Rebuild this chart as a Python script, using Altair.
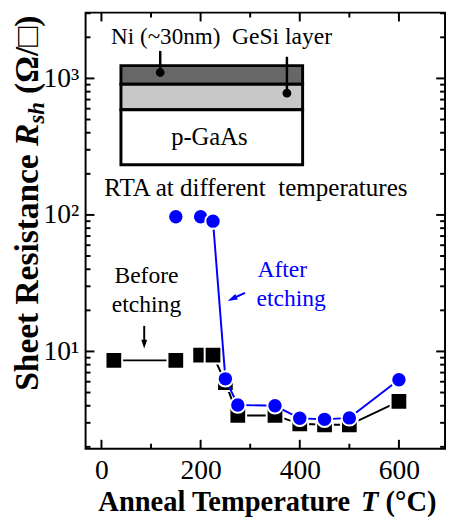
import altair as alt
import pandas as pd

# ---------------- data ----------------
T_before = [25, 150, 200, 225, 250, 275, 350, 400, 450, 500, 600]
R_before = [8.6, 8.6, 9.4, 9.4, 5.9, 3.4, 3.4, 2.95, 2.9, 2.9, 4.3]
seg_before = [0, 0, 1, 1, 1, 1, 1, 1, 1, 1, 1]

T_after = [150, 200, 225, 250, 275, 350, 400, 450, 500, 600]
R_after = [97, 97, 90, 6.3, 4.05, 4.0, 3.24, 3.18, 3.26, 6.2]
seg_after = [0, 1, 1, 1, 1, 1, 1, 1, 1, 1]

x_major = [0, 200, 400, 600]
x_minor = [100, 300, 500]
y_major = [10, 100, 1000]
y_minor = [2, 3, 4, 5, 6, 7, 8, 9, 20, 30, 40, 50, 60, 70, 80, 90,
           200, 300, 400, 500, 600, 700, 800, 900, 2000, 3000]

df_b = pd.DataFrame({"T": T_before, "R": R_before, "seg": seg_before})
df_a = pd.DataFrame({"T": T_after, "R": R_after, "seg": seg_after})
one = pd.DataFrame({"k": [0]})

W, H = 366, 444
SERIF = "Liberation Serif"
BLUE = "#0000ff"

xs = alt.Scale(domain=[-32, 693], nice=False, zero=False)
ys = alt.Scale(type="log", domain=[1.94, 3034], nice=False)

X = alt.X("T:Q", scale=xs, axis=alt.Axis(values=x_major, ticks=False, domain=False, grid=False,
                                          labelFontSize=28, labelFont=SERIF, labelPadding=8,
                                          labelColor="black", title=None, labelFlush=False))
Y = alt.Y("R:Q", scale=ys, axis=alt.Axis(values=y_major, ticks=False, domain=False, grid=False,
                                          labelFontSize=28, labelFont=SERIF, labelPadding=7,
                                          labelColor="black", title=None, labelFlush=False,
                                          labelExpr="datum.value == 10 ? '10\u00b9' : datum.value == 100 ? '10\u00b2' : '10\u00b3'"))

layers = []

# ---------------- inward ticks ----------------
MAJ, MIN = 9, 5
def xt(vals, L):
    d = pd.DataFrame({"T": vals})
    b = alt.Chart(d).mark_rule(color="black", strokeWidth=2).encode(x=X, y=alt.value(H), y2=alt.value(H - L))
    t = alt.Chart(d).mark_rule(color="black", strokeWidth=2).encode(x=X, y=alt.value(0), y2=alt.value(L))
    return [b, t]
def yt(vals, L):
    d = pd.DataFrame({"R": vals})
    l = alt.Chart(d).mark_rule(color="black", strokeWidth=2).encode(y=Y, x=alt.value(0), x2=alt.value(L))
    r = alt.Chart(d).mark_rule(color="black", strokeWidth=2).encode(y=Y, x=alt.value(W), x2=alt.value(W - L))
    return [l, r]
layers += xt(x_major, MAJ) + xt(x_minor, MIN) + yt(y_major, MAJ) + yt(y_minor, MIN)

# ---------------- data series ----------------
line_b = alt.Chart(df_b).mark_line(color="black", strokeWidth=2).encode(x=X, y=Y, detail="seg:N")
pts_b = alt.Chart(df_b).mark_point(shape="square", filled=True, size=289, color="black",
                                    stroke="white", strokeWidth=2, opacity=1).encode(x=X, y=Y)
line_a = alt.Chart(df_a).mark_line(color=BLUE, strokeWidth=2).encode(x=X, y=Y, detail="seg:N")
pts_a = alt.Chart(df_a).mark_point(shape="circle", filled=True, size=245, color=BLUE,
                                    stroke="white", strokeWidth=2, opacity=1).encode(x=X, y=Y)
layers += [line_b, pts_b, line_a, pts_a]

# ---------------- inset diagram ----------------
def rect(x1, x2, y1, y2, fill):
    return alt.Chart(one).mark_rect(fill=fill, stroke="black", strokeWidth=3).encode(
        x=alt.value(x1), x2=alt.value(x2), y=alt.value(y1), y2=alt.value(y2))
layers += [rect(36, 221, 54, 73, "#676767"), rect(36, 221, 73, 99, "#c8c8c8"), rect(36, 221, 99, 155, "white")]

def vrule(x, y1, y2, color="black", w=2.5):
    return alt.Chart(one).mark_rule(color=color, strokeWidth=w).encode(
        x=alt.value(x), y=alt.value(y1), y2=alt.value(y2))
def dot(x, y, size=80):
    return alt.Chart(one).mark_point(shape="circle", filled=True, size=size, color="black", opacity=1).encode(
        x=alt.value(x), y=alt.value(y))
layers += [vrule(76, 39, 61), dot(76, 61), vrule(205, 45, 82), dot(205, 82)]

def txt(s, x, y, size=24, color="black", align="left", weight="normal", style="normal",
        angle=0, baseline="alphabetic"):
    return alt.Chart(one).mark_text(text=s, font=SERIF, fontSize=size, color=color, align=align,
                                    baseline=baseline, fontWeight=weight, fontStyle=style,
                                    angle=angle).encode(x=alt.value(x), y=alt.value(y))

layers += [
    txt("Ni (~30nm)", 26, 32, 23.5),
    txt("GeSi layer", 149, 32, 24),
    txt("p-GaAs", 126, 135, 25, align="center"),
    txt("RTA at different\u00a0 temperatures", 19, 187, 25.5),
    txt("Before", 62, 275, 24, align="center"),
    txt("etching", 62, 305, 24, align="center"),
    txt("After", 175, 269, 24, color=BLUE),
    txt("etching", 174, 299, 24, color=BLUE),
]

# arrows
layers += [
    vrule(59.7, 319, 334, w=2),
    alt.Chart(one).mark_point(shape="M0,1L-0.67,-1L0.67,-1Z", filled=True, size=81, color="black",
                              opacity=1).encode(x=alt.value(59.7), y=alt.value(337.5)),
    alt.Chart(one).mark_rule(color=BLUE, strokeWidth=2).encode(
        x=alt.value(162.3), x2=alt.value(151), y=alt.value(285.3), y2=alt.value(290.6)),
    alt.Chart(one).mark_point(shape="M0,-1L-0.6,1L0.6,1Z", filled=True, size=100, color=BLUE,
                              opacity=1, angle=244.5).encode(x=alt.value(149.2), y=alt.value(291.5)),
]

# ---------------- axis titles (composed) ----------------
# x title
layers += [
    txt("Anneal Temperature", 13, 507, 29, weight="bold"),
    txt("T", 280.4, 507, 29, weight="bold", style="italic"),
    txt("(\u00b0C)", 305.4, 507, 29, weight="bold"),
]
# y title (rotated)
YB = -48.5
layers += [
    txt("Sheet Resistance", YB, 385, 34, weight="bold", angle=270),
    txt("R", YB, 135.7, 34, weight="bold", style="italic", angle=270),
    txt("sh", YB + 6, 113, 23, weight="bold", style="italic", angle=270),
    txt("(\u03a9/\u25a1)", YB, 82.8, 34, weight="bold", angle=270),
]

chart = alt.layer(*layers).properties(
    width=W, height=H,
    autosize=alt.AutoSizeParams(type="none"),
    padding={"left": 79, "top": 0, "right": 2, "bottom": 71},
    background="white",
).configure_view(stroke="black", strokeWidth=2)

chart.save("out.html", embed_options={"renderer": "svg", "actions": False})
